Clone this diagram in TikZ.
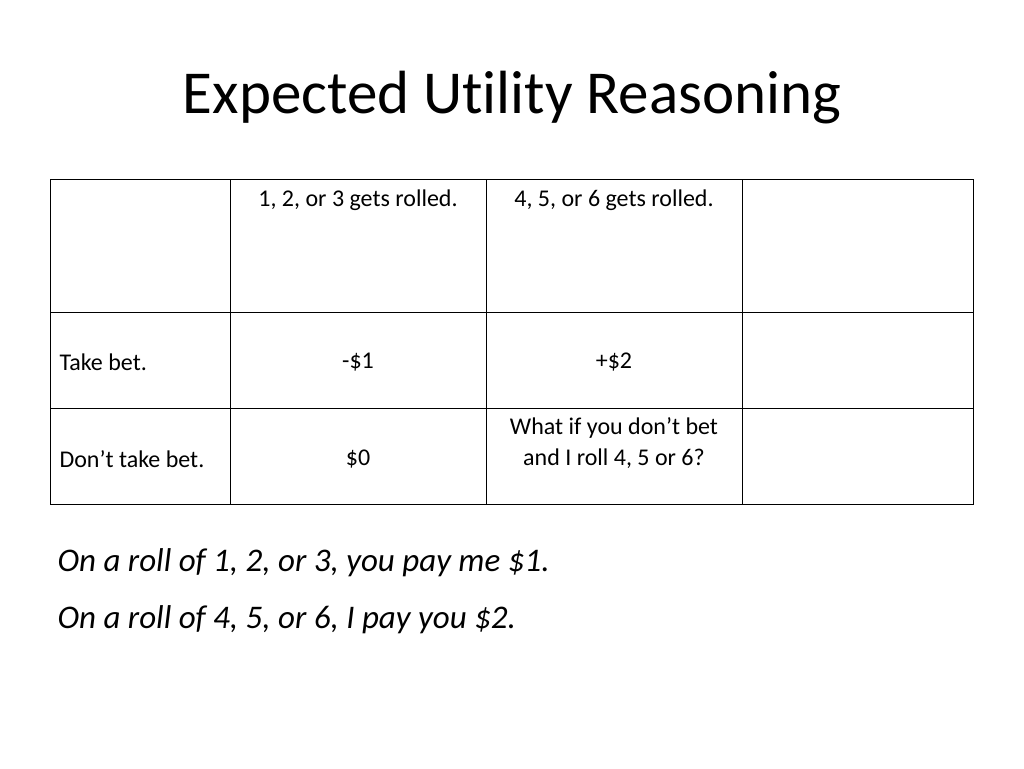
\documentclass[tikz,border=0pt]{standalone}
\usepackage{fontspec}
\setmainfont[Ligatures=NoCommon]{Carlito}
\tikzset{
  cell/.style={align=center, font=\fontsize{24}{31}\selectfont},
  note/.style={anchor=west, font=\fontsize{33}{40}\selectfont\itshape},
}
\begin{document}
\begin{tikzpicture}[x=1pt,y=-1pt]
    \useasboundingbox (0,0) rectangle (1024,768);
    \node (title) at (512,98) {\fontsize{61}{70}\selectfont Expected Utility Reasoning};

    % grid of the table
    \draw[line width=1pt] (50,179) rectangle (973,504);
    \foreach \x in {230,486,742} \draw[line width=1pt] (\x,179) -- (\x,504);
    \foreach \y in {312,408} \draw[line width=1pt] (50,\y) -- (973,\y);

    % header row
    \node[cell] (headA) at (358,200) {1, 2, or 3 gets rolled.};
    \node[cell] (headB) at (614,200) {4, 5, or 6 gets rolled.};

    % rows
    \node[cell, anchor=west] (take) at (56,362) {Take bet.};
    \node[cell] (takeA) at (358,362) {-\$1};
    \node[cell] (takeB) at (614,362) {+\$2};
    \node[cell, anchor=west] (dont) at (56,459) {Don’t take bet.};
    \node[cell] (dontA) at (358,459) {\$0};
    \node[cell] (dontB) at (614,443) {What if you don’t bet\\and I roll 4, 5 or 6?};

    % the bet
    \node[note] (rule1) at (54,563) {On a roll of 1, 2, or 3, you pay me \$1.};
    \node[note] (rule2) at (54,620) {On a roll of 4, 5, or 6, I pay you \$2.};
\end{tikzpicture}
\end{document}
